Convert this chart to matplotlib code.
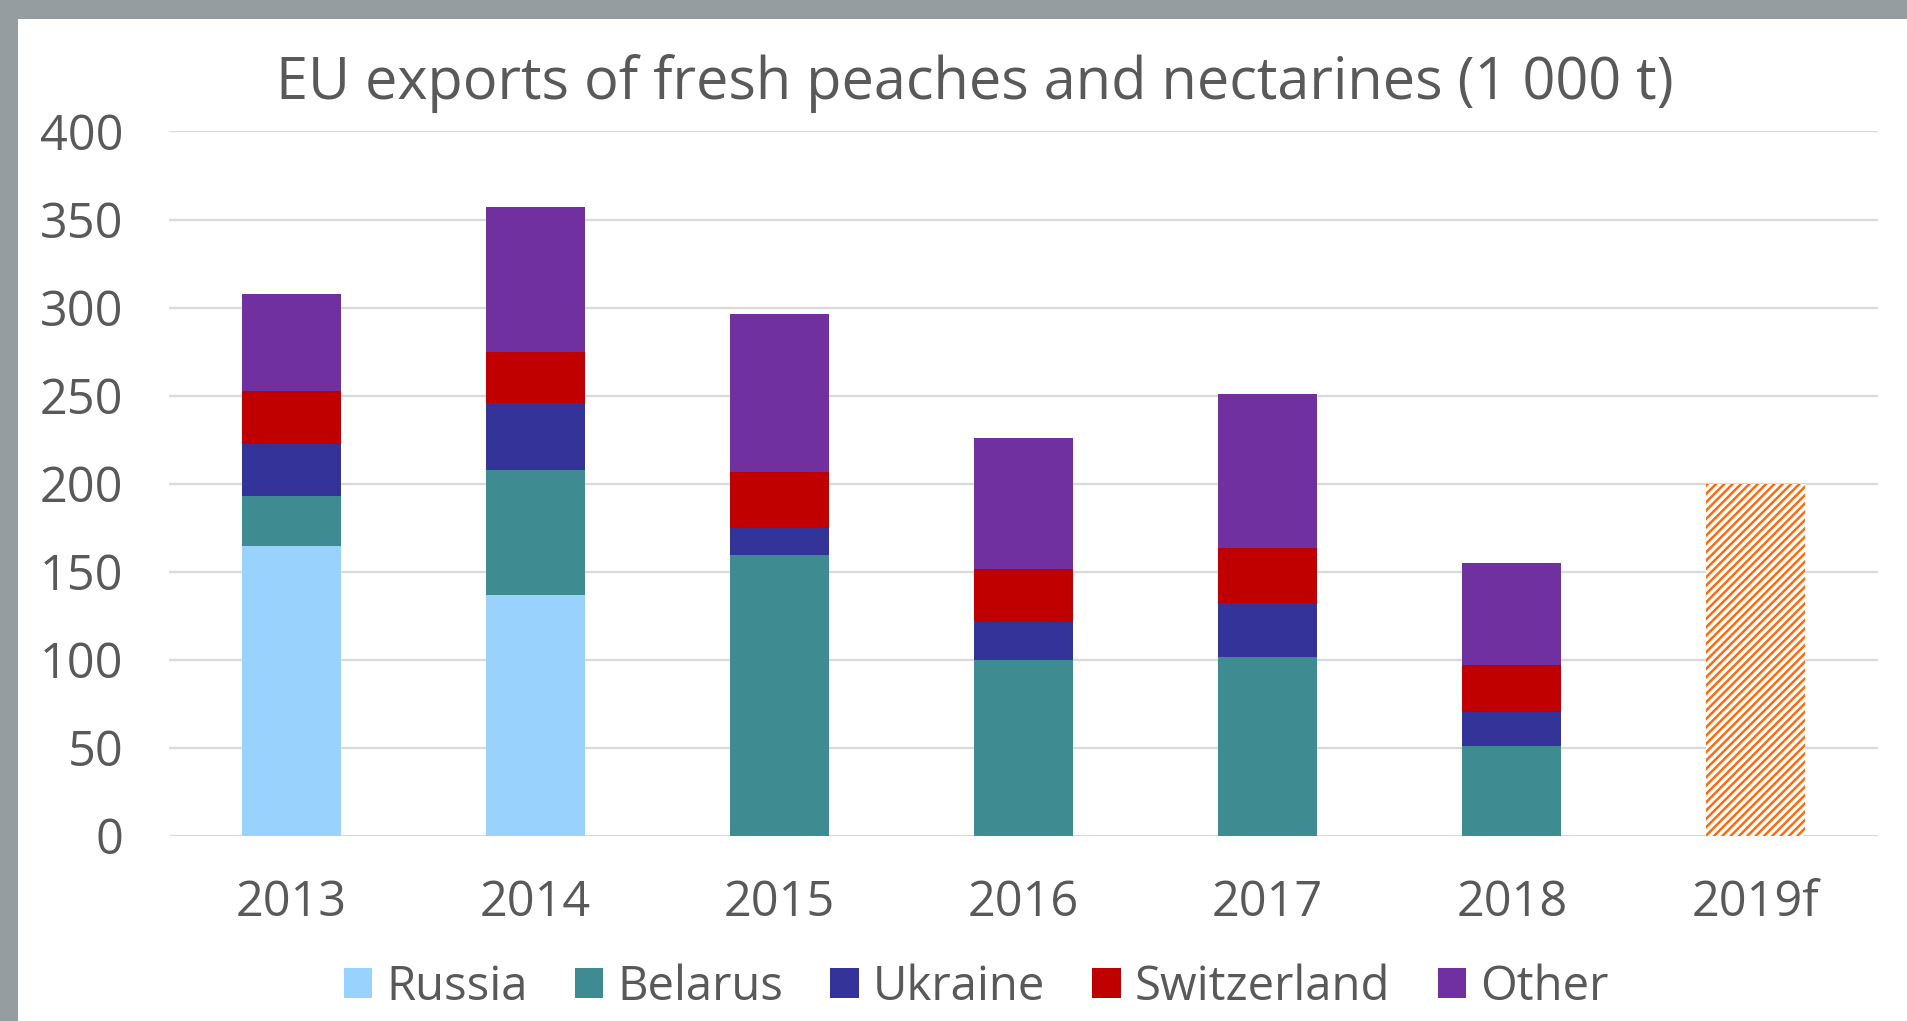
import matplotlib
matplotlib.use("Agg")
import matplotlib.pyplot as plt
import numpy as np

plt.rcParams['font.family'] = ['Open Sans', 'DejaVu Sans']
plt.rcParams['hatch.linewidth'] = 1.8

years = ["2013", "2014", "2015", "2016", "2017", "2018", "2019f"]
countries = ["Russia", "Belarus", "Ukraine", "Switzerland", "Other"]

russia = [164.6, 136.7, 0, 0, 0, 0]
belarus = [28.5, 71.0, 159.3, 99.8, 101.5, 51.0]
ukraine = [29.6, 37.9, 15.7, 22.0, 30.9, 19.4]
switzerland = [29.7, 29.0, 31.8, 29.5, 30.8, 26.7]
other = [55.1, 82.3, 89.5, 74.4, 87.7, 58.0]
forecast_total = 200

colors = ["#99d3fd", "#3e8c92", "#333399", "#c00000", "#7030a0"]
text_color = "#595959"

W, H = 1907, 1021
fig = plt.figure(figsize=(W / 100, H / 100), dpi=100)
fig.patch.set_facecolor("white")

# grey frame strips along top and left edges
fig.patches.append(plt.Rectangle((0, 1 - 19 / H), 1, 19 / H, transform=fig.transFigure,
                                 facecolor="#959da1", edgecolor="none", zorder=0))
fig.patches.append(plt.Rectangle((0, 0), 18 / W, 1, transform=fig.transFigure,
                                 facecolor="#959da1", edgecolor="none", zorder=0))

left, right = 169 / W, 1878 / W
bottom, top = (H - 835.7) / H, (H - 131.5) / H
ax = fig.add_axes([left, bottom, right - left, top - bottom])

x = np.arange(len(years) - 1)
width = 0.405
series = [russia, belarus, ukraine, switzerland, other]
base = np.zeros(len(x))
for name, vals, col in zip(countries, series, colors):
    vals = np.array(vals, dtype=float)
    ax.bar(x, vals, width, bottom=base, color=col, label=name, edgecolor="none", zorder=3)
    base += vals

ax.bar([len(years) - 1], [forecast_total], width, facecolor="white", edgecolor="#ff6a0d",
       hatch="////", linewidth=0, zorder=3)

ax.set_xlim(-0.5, len(years) - 0.5)
ax.set_ylim(0, 400)
ax.set_yticks(np.arange(0, 401, 50))
ax.set_xticks(np.arange(len(years)))
ax.set_xticklabels(years)
ax.yaxis.grid(True, color="#d9d9d9", linewidth=1.6, zorder=0)
ax.set_axisbelow(True)
for s in ax.spines.values():
    s.set_visible(False)
ax.tick_params(axis="both", length=0, labelsize=35, colors=text_color)
ax.tick_params(axis="y", pad=33)
ax.tick_params(axis="x", pad=31)

fig.text(975 / W, (H - 99) / H, "EU exports of fresh peaches and nectarines (1 000 t)",
         ha="center", va="baseline", fontsize=41.5, color=text_color)

handles, labels = ax.get_legend_handles_labels()
leg = fig.legend(handles, labels, loc="center", bbox_to_anchor=(976 / W, 34 / H), ncol=5,
                 frameon=False, fontsize=34, handlelength=0.6, handleheight=0.6,
                 handletextpad=0.3, columnspacing=1.0, labelcolor=text_color)

fig.savefig("out.png", dpi=100, facecolor="white")
